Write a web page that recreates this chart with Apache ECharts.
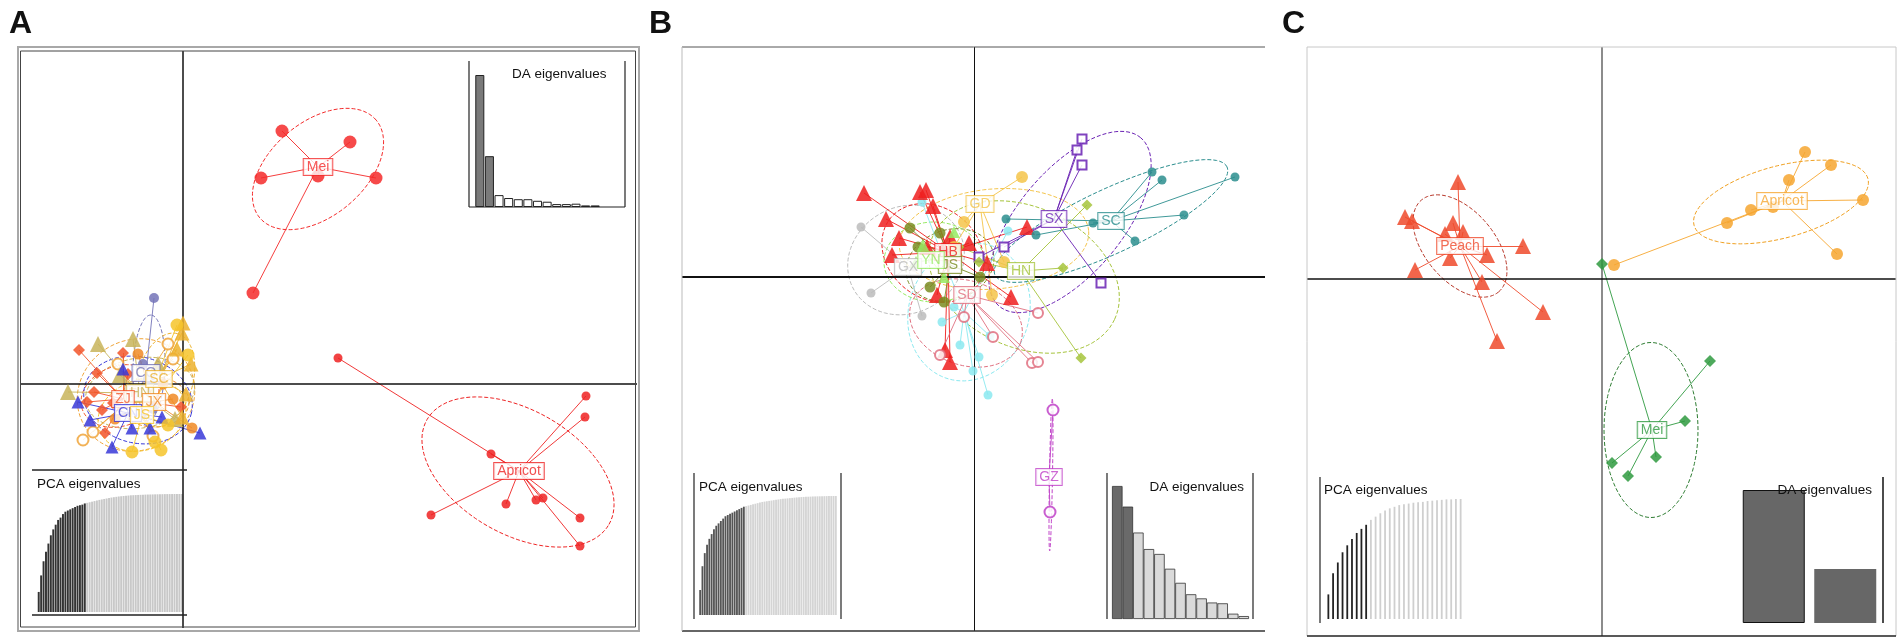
<!DOCTYPE html>
<html>
<head>
<meta charset="utf-8">
<title>DAPC scatter plots</title>
<script src="https://cdn.jsdelivr.net/npm/echarts@6/dist/echarts.min.js"></script>
<style>
  html, body { margin: 0; padding: 0; background: #fff; }
  #main { width: 1904px; height: 642px; }
</style>
</head>
<body>
<div id="main"></div>
<script>
// ---------- panel A : species + Chinese Mei populations ----------
var aNames = ['Mei', 'Apricot', 'FJ', 'HN', 'ZJ', 'JX', 'CQ', 'SC', 'CN', 'JS'];
var aCenters = [[13.5, 21.7], [33.6, -8.7], [-4.7, -1.0], [-4.3, -0.9], [-6.0, -1.5],
                [-2.9, -1.8], [-3.7, 1.1], [-2.4, 0.5], [-5.5, -2.9], [-4.1, -3.1]];
// centre x, centre y, semi axis 1, semi axis 2, angle (deg)
var aEllipses = [[13.5, 21.5, 7.6, 4.7, 40], [33.5, -8.8, 10.5, 6.2, -30], [-4.7, -1.1, 6.0, 5.5, 30],
                 [-4.3, -0.9, 5.5, 3.5, 10], [-6.3, -1.2, 4.0, 3.0, 20], [-2.9, -1.8, 3.5, 2.5, 0],
                 [-3.4, 1.6, 5.3, 1.6, 88], [-1.8, 0.4, 4.8, 2.8, 75], [-4.5, -1.6, 5.5, 4.3, -15],
                 [-4.1, -3.1, 4.5, 3.5, 20]];
var aPoints = [
  [[9.9, 25.3], [16.7, 24.2], [7.8, 20.6], [19.3, 20.6], [7.0, 9.1], [13.5, 20.8]],
  [[15.5, 2.6], [40.3, -1.2], [40.2, -3.3], [30.8, -7.0], [32.3, -12.0], [24.8, -13.1], [36.0, -11.4], [35.3, -11.6], [39.7, -13.4], [39.7, -16.2]],
  [[-10.0, -5.6], [-9.0, -4.8], [-1.0, 2.5], [-3.0, -5.2], [-6.5, 2.0], [-1.5, 4.0]],
  [[-8.5, 4.0], [-11.5, -0.8], [-6.3, 0.9], [-2.5, 2.0], [-5.0, 4.5], [-0.8, -3.5]],
  [[-10.4, 3.4], [-8.6, 1.1], [-8.9, -0.8], [-6.0, 3.1], [-7.0, -1.9], [-8.1, -2.6], [-9.6, -1.8], [-7.8, -4.9], [-5.5, 1.0], [-0.2, -2.3]],
  [[0.9, -4.4], [-2.0, 0.0], [-1.0, -1.5], [-4.5, 3.0], [-6.8, -3.5]],
  [[-2.9, 8.6], [-3.5, 0.5], [-4.5, -1.0], [-3.0, -2.5], [-4.0, 2.0]],
  [[0.0, 6.1], [-0.1, 5.1], [-0.6, 3.5], [0.8, 2.0], [-0.1, -3.3], [0.3, -1.0]],
  [[-10.5, -1.8], [-9.3, -3.6], [-7.1, -6.3], [1.7, -4.9], [-2.1, -3.3], [-3.3, -4.4], [-5.1, -4.4], [-6.0, 1.5]],
  [[-5.1, -6.8], [-2.2, -6.6], [0.5, 2.9], [-0.6, 5.9], [-1.5, -4.1], [-2.8, -5.8]]
];
var aDA = [100, 38.5, 9, 6.8, 5.9, 5.9, 4.7, 4, 2.2, 2.2, 2.5, 1.2, 1.2];
var aPCA = [17, 31, 43, 51, 58, 65, 70, 74, 78, 80, 83, 85, 86, 87, 88, 89, 90, 90.5, 91, 92,
            92.5, 93, 93.5, 94, 94.5, 95, 95.4, 95.8, 96.2, 96.6, 97, 97.3, 97.6, 97.9, 98.1,
            98.3, 98.5, 98.7, 98.9, 99.0, 99.1, 99.2, 99.3, 99.4, 99.5, 99.55, 99.6, 99.65, 99.7,
            99.75, 99.8, 99.85, 99.9, 99.92, 99.94, 99.96, 99.98, 100, 100, 100];
var aRetained = 20;

// ---------- panel B : Chinese Mei populations ----------
var bNames = ['', 'GX', 'HB', 'JS', 'YN', 'GD', 'SX', 'SC', 'HN', 'SD', 'GZ'];
var bCenters = [[-1.0, -3.5], [-6.6, 1.0], [-2.6, 2.5], [-2.4, 1.2], [-4.3, 1.7], [0.6, 7.3],
                [8.0, 5.8], [13.7, 5.6], [4.7, 0.6], [-0.7, -1.8], [7.5, -20.0]];
var bEllipses = [[-0.5, -3.5, 7.0, 6.0, 70], [-6.8, 1.7, 6.0, 5.3, 30], [-4.1, 2.4, 5.5, 4.5, -40],
                 [-2.4, 1.2, 4.5, 3.5, 20], [-4.0, 1.5, 5.0, 4.0, 0], [2.0, 3.8, 9.5, 5.0, 5],
                 [9.6, 5.5, 11.0, 5.2, 50], [13.7, 5.6, 12.8, 3.2, 25], [5.0, 0.0, 10.0, 7.0, -25],
                 [-0.8, -4.6, 5.8, 4.2, -20], [7.7, -19.8, 7.6, 0.15, 89]];
var bPoints = [
  [[-5.2, 7.5], [-3.2, -4.5], [3.4, 4.6], [-0.1, -9.4], [1.4, -11.8], [1.6, -5.9], [-1.4, -6.8], [-2.0, -3.0], [0.5, -8.0]],
  [[-11.3, 5.0], [-10.3, -1.6], [-5.2, -3.9], [-6.0, 1.0]],
  [[-11.0, 8.4], [-8.8, 5.8], [-5.4, 8.5], [-4.8, 8.7], [-4.1, 7.1], [-7.5, 3.9], [-8.2, 2.2], [-4.7, 3.0], [-3.7, -1.8],
   [-0.5, 3.4], [1.3, 1.4], [3.7, -2.0], [-2.9, -7.3], [-2.4, -8.5], [5.3, 5.0], [-2.4, 4.0], [-3.2, 2.7]],
  [[-6.4, 4.9], [-3.4, 4.4], [-4.4, -1.0], [0.6, 0.0], [-5.6, 3.0], [-3.0, -2.5]],
  [[-5.1, 3.2], [-1.7, 2.7], [-3.0, 0.0], [-5.8, 1.5], [-2.0, 4.5]],
  [[4.8, 10.0], [-2.0, 3.0], [1.8, -1.8], [3.0, 1.5], [-1.0, 5.5]],
  [[10.8, 11.2], [10.8, 13.8], [10.3, 12.7], [12.7, -0.6], [3.0, 3.0], [0.5, 2.0]],
  [[17.8, 10.5], [18.8, 9.7], [26.1, 10.0], [21.0, 6.2], [16.1, 3.6], [11.9, 5.4], [3.2, 5.8], [6.2, 4.2]],
  [[11.3, 7.2], [8.9, 0.9], [10.7, -8.1], [0.5, 1.5], [-1.5, 3.0]],
  [[-3.4, -7.8], [5.8, -8.6], [6.4, -3.6], [6.4, -8.5], [1.9, -6.0], [-1.0, -4.0]],
  [[7.9, -13.3], [7.6, -23.5]]
];
var bDA = [100, 84.5, 65, 52.6, 48.9, 37.8, 27.2, 18.6, 15.5, 12.4, 11.8, 4, 2.2];
var bPCA = [21, 41, 52, 59, 64, 68, 72, 75, 77, 79, 81, 83, 84, 85, 86, 87, 88, 89, 90, 91,
            91.5, 92, 92.5, 93, 93.5, 94, 94.5, 95, 95.3, 95.6, 95.9, 96.2, 96.5, 96.8, 97.1,
            97.4, 97.6, 97.8, 98, 98.2, 98.4, 98.6, 98.8, 99, 99.1, 99.2, 99.3, 99.4, 99.5, 99.6,
            99.65, 99.7, 99.75, 99.8, 99.85, 99.9, 99.93, 99.96, 100, 100];
var bRetained = 20;

// ---------- panel C : Peach / Apricot / Mei ----------
var cNames = ['Peach', 'Apricot', 'Mei'];
var cCenters = [[-14.2, 3.3], [18.0, 7.8], [5.0, -15.1]];
var cEllipses = [[-14.2, 3.3, 6.0, 3.5, -50], [17.9, 7.7, 9.0, 3.6, 15], [4.9, -15.1, 8.75, 4.7, 90]];
var cPoints = [
  [[-14.4, 9.7], [-19.7, 6.2], [-19.0, 5.8], [-15.7, 4.5], [-14.9, 5.6], [-13.9, 4.7], [-7.9, 3.3],
   [-11.5, 2.4], [-15.2, 2.1], [-18.7, 0.9], [-12.0, -0.3], [-5.9, -3.3], [-10.5, -6.2]],
  [[20.3, 12.7], [22.9, 11.4], [18.7, 9.9], [14.9, 6.9], [17.1, 7.2], [12.5, 5.6], [26.1, 7.9], [23.5, 2.5], [1.2, 1.4]],
  [[0.0, 1.5], [10.8, -8.2], [8.3, -14.2], [5.4, -17.8], [1.0, -18.4], [2.6, -19.7]]
];
var cDA = [100, 40.6];
var cPCA = [20.5, 38.2, 47.1, 55.6, 61.4, 66.6, 71.7, 75.1, 78.5, 82.6, 85.3, 88.1, 90.4, 92.2, 93.5,
            94.9, 95.6, 96.2, 96.9, 97.3, 97.6, 98.3, 98.6, 99.0, 99.3, 99.7, 99.7, 100, 100];
var cRetained = 9;

// ---------- styles (colour, symbol, size, ellipse colour) ----------
var aLook = [['#f42a2a', 'circle', 13], ['#ee2222', 'circle', 9], ['#f0a53a', 'emptyCircle', 11],
             ['#c8b45a', 'triangle', 16], ['#f2552a', 'diamond', 12], ['#f08a24', 'circle', 11],
             ['#7474b8', 'circle', 10], ['#ecb22e', 'triangle', 15], ['#3838d8', 'triangle', 13],
             ['#f6c42a', 'circle', 13]];
var bLook = [['#8be9f0', 'circle', 9], ['#bcbcbc', 'circle', 9], ['#ee1e1e', 'triangle', 16],
             ['#7a8c22', 'circle', 11], ['#96ea62', 'triangle', 12], ['#f4c44a', 'circle', 12],
             ['#6a22b4', 'emptyRect', 9], ['#2b8e8e', 'circle', 9], ['#a6c43c', 'diamond', 11],
             ['#e07080', 'emptyCircle', 10], ['#c042c8', 'emptyCircle', 11]];
var cLook = [['#ef4a2c', 'triangle', 16, '#b8382a'], ['#f6a630', 'circle', 12, '#f0a020'],
             ['#2f9a40', 'diamond', 12, '#2e7d32']];

var FONT = '"Liberation Sans", Arial, sans-serif';
var chart = echarts.init(document.getElementById('main'));
var series = [];

function ellipseRender(color) {
  return function (params, api) {
    var c = api.coord([api.value(0), api.value(1)]);
    var u = api.size([1, 1]);
    var a = api.value(2), b = api.value(3), t = api.value(4) * Math.PI / 180;
    var pts = [];
    for (var k = 0; k <= 96; k++) {
      var s = k / 96 * 2 * Math.PI;
      var ex = a * Math.cos(s), ey = b * Math.sin(s);
      pts.push([c[0] + (ex * Math.cos(t) - ey * Math.sin(t)) * u[0],
                c[1] - (ex * Math.sin(t) + ey * Math.cos(t)) * u[1]]);
    }
    return { type: 'polyline', shape: { points: pts },
             style: { stroke: color, fill: null, lineWidth: 1, lineDash: [4, 2] } };
  };
}

function addPanel(ax, names, centers, ellipses, points, look) {
  names.forEach(function (n, g) {
    var col = look[g][0], ecol = look[g][3] || col;
    series.push({ type: 'custom', xAxisIndex: ax, yAxisIndex: ax, silent: true, z: 3,
      renderItem: ellipseRender(ecol), data: [ellipses[g]], encode: { x: 0, y: 1 } });
    series.push({ type: 'lines', coordinateSystem: 'cartesian2d', xAxisIndex: ax, yAxisIndex: ax,
      silent: true, z: 4, lineStyle: { color: col, width: 1, opacity: 0.9, curveness: 0 },
      data: points[g].map(function (p) { return { coords: [p, centers[g]] }; }) });
    series.push({ type: 'scatter', xAxisIndex: ax, yAxisIndex: ax, silent: true, z: 5,
      symbol: look[g][1], symbolSize: look[g][2],
      itemStyle: { color: col, borderColor: col, borderWidth: look[g][1].indexOf('empty') === 0 ? 1 : 0, opacity: 0.85 },
      data: points[g] });
  });
  names.forEach(function (n, g) {
    if (!n) return;
    var col = look[g][0];
    series.push({ type: 'scatter', xAxisIndex: ax, yAxisIndex: ax, silent: true, z: 8,
      symbolSize: 1, itemStyle: { color: 'rgba(0,0,0,0)' }, data: [centers[g]],
      label: { show: true, position: 'inside', formatter: n, color: col, fontSize: 14,
               fontFamily: FONT, backgroundColor: '#fff', borderColor: col, borderWidth: 1,
               padding: [1, 3, 0, 3], lineHeight: 15 } });
  });
}

function addCross(ax, vStyle, hStyle) {
  series.push({ type: 'scatter', xAxisIndex: ax, yAxisIndex: ax, data: [[0, 0]], symbolSize: 0,
    silent: true, z: 1,
    markLine: { silent: true, symbol: ['none', 'none'], animation: false, label: { show: false },
      data: [{ xAxis: 0, lineStyle: vStyle }, { yAxis: 0, lineStyle: hStyle }] } });
}

function addBars(ax, vals, nDark, dark, light, border, bw, gap) {
  series.push({ type: 'bar', xAxisIndex: ax, yAxisIndex: ax, silent: true, barCategoryGap: gap,
    data: vals.map(function (v, i) {
      return { value: v, itemStyle: { color: i < nDark ? dark : light, borderColor: border, borderWidth: bw } };
    }) });
}

addCross(0, { color: '#111', width: 1.5, type: 'solid' }, { color: '#111', width: 1.5, type: 'solid' });
addPanel(0, aNames, aCenters, aEllipses, aPoints, aLook);
addBars(1, aDA, 2, '#7a7a7a', '#ffffff', '#222', 1, '6%');
addBars(2, aPCA, aRetained, '#333333', '#c8c8c8', null, 0, '20%');

addCross(3, { color: '#111', width: 1, type: 'solid' }, { color: '#111', width: 2, type: 'solid' });
addPanel(3, bNames, bCenters, bEllipses, bPoints, bLook);
addBars(4, bPCA, bRetained, '#555555', '#d4d4d4', null, 0, '20%');
addBars(5, bDA, 2, '#6a6a6a', '#dadada', '#333', 0.8, '0%');

addCross(6, { color: '#666', width: 1.5, type: 'solid' }, { color: '#111', width: 1.5, type: 'solid' });
addPanel(6, cNames, cCenters, cEllipses, cPoints, cLook);
addBars(7, cPCA, cRetained, '#222222', '#cfcfcf', null, 0, '62%');
series.push({ type: 'bar', xAxisIndex: 8, yAxisIndex: 8, silent: true, barWidth: 62,
  data: cDA.map(function (v, i) {
    return { value: v, itemStyle: { color: '#676767', borderColor: '#111', borderWidth: i === 0 ? 1 : 0 } };
  }) });

var grids = [
  { left: 20, top: 51, width: 617, height: 577 },
  { left: 475, top: 75, width: 125, height: 132 },
  { left: 37.5, top: 494, width: 145.5, height: 118 },
  { left: 682, top: 47, width: 583, height: 584 },
  { left: 699, top: 496, width: 138, height: 119 },
  { left: 1112, top: 486, width: 137, height: 133 },
  { left: 1307, top: 47, width: 589, height: 589 },
  { left: 1326, top: 499, width: 137, height: 120 },
  { left: 1738, top: 490, width: 143, height: 133 }
];
var ranges = { 0: [-16.3, 45.4, -24.4, 33.3], 3: [-29.2, 29.1, -35.4, 23.0], 6: [-29.5, 29.4, -35.7, 23.2] };
var barData = { 1: aDA, 2: aPCA, 4: bPCA, 5: bDA, 7: cPCA, 8: cDA };
var xAxes = [], yAxes = [];
grids.forEach(function (g, i) {
  if (ranges[i]) {
    xAxes.push({ type: 'value', gridIndex: i, min: ranges[i][0], max: ranges[i][1], show: false });
    yAxes.push({ type: 'value', gridIndex: i, min: ranges[i][2], max: ranges[i][3], show: false });
  } else {
    xAxes.push({ type: 'category', gridIndex: i, show: false, data: barData[i].map(function (v, k) { return k + 1; }) });
    yAxes.push({ type: 'value', gridIndex: i, min: 0, max: 100, show: false });
  }
});

function ln(x1, y1, x2, y2, color, w) {
  return { type: 'line', z: 50, silent: true, shape: { x1: x1, y1: y1, x2: x2, y2: y2 },
           style: { stroke: color || '#222', lineWidth: w || 1.2 } };
}
function txt(x, y, s, font, align) {
  return { type: 'text', z: 60, silent: true, x: x, y: y,
           style: { text: s, font: font, fill: '#111', align: align || 'left', verticalAlign: 'middle',
                    textAlign: align || 'left', textVerticalAlign: 'middle' } };
}
var LETTER = 'bold 32px ' + FONT, SMALL = '13.5px ' + FONT;

var graphics = [
  txt(9, 24, 'A', LETTER), txt(649, 24, 'B', LETTER), txt(1282, 24, 'C', LETTER),
  // panel A frames
  { type: 'rect', z: 50, silent: true, shape: { x: 18, y: 47, width: 621, height: 584 },
    style: { fill: null, stroke: '#a8a8a8', lineWidth: 2 } },
  { type: 'rect', z: 50, silent: true, shape: { x: 20.5, y: 51, width: 615, height: 576 },
    style: { fill: null, stroke: '#444', lineWidth: 1 } },
  ln(469, 61, 469, 207), ln(625, 61, 625, 207), ln(469, 207, 625, 207),
  txt(512, 74, 'DA eigenvalues', SMALL),
  ln(32, 470, 187, 470, '#222', 1.5), ln(32, 615, 187, 615, '#222', 1.5),
  txt(37, 484, 'PCA eigenvalues', SMALL),
  // panel B frames
  ln(682, 47, 1265, 47, '#555', 1), ln(682, 631, 1265, 631, '#333', 1.5), ln(682, 47, 682, 631, '#bbb', 1),
  ln(694, 473, 694, 619), ln(841, 473, 841, 619), txt(699, 487, 'PCA eigenvalues', SMALL),
  ln(1107, 473, 1107, 619), ln(1253, 473, 1253, 619), txt(1244, 487, 'DA eigenvalues', SMALL, 'right'),
  // panel C frames
  ln(1307, 47, 1307, 636, '#c8c8c8', 1), ln(1307, 47, 1896, 47, '#c8c8c8', 1),
  ln(1896, 47, 1896, 636, '#c8c8c8', 1), ln(1307, 636, 1896, 636, '#222', 1.5),
  ln(1320, 477, 1320, 623), txt(1324, 490, 'PCA eigenvalues', SMALL),
  ln(1883, 477, 1883, 623, '#111', 1.5), txt(1872, 490, 'DA eigenvalues', SMALL, 'right')
];

chart.setOption({
  animation: false,
  backgroundColor: '#fff',
  grid: grids,
  xAxis: xAxes,
  yAxis: yAxes,
  graphic: graphics,
  series: series
});
</script>
</body>
</html>
